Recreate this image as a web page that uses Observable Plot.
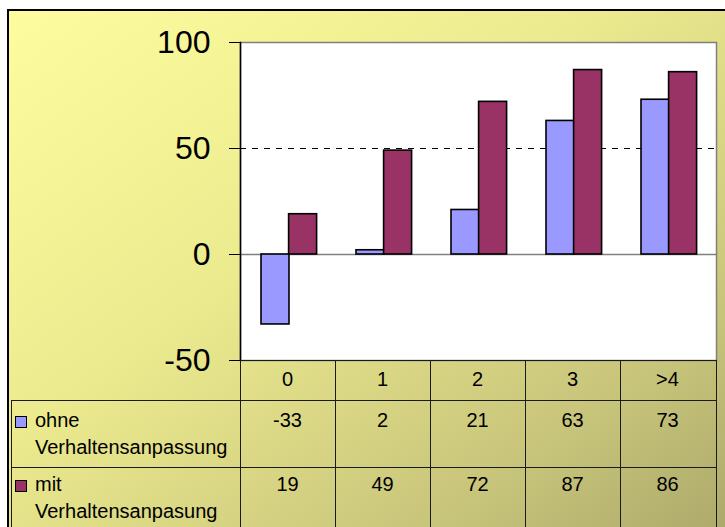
<!DOCTYPE html>
<html><head><meta charset="utf-8">
<script src="https://cdn.jsdelivr.net/npm/d3@7"></script>
<script src="https://cdn.jsdelivr.net/npm/@observablehq/plot@0.6"></script>
<style>
html,body{margin:0;padding:0;}
body{width:725px;height:527px;overflow:hidden;background:#fff;position:relative;font-family:"Liberation Sans",Arial,sans-serif;}
#bg{position:absolute;left:7px;top:9px;width:740px;height:540px;border-left:2px solid #000;border-top:2px solid #000;
  background:linear-gradient(to bottom right,#fdfd9f 0%,#ecea8e 40%,#c9c67c 75%,#a9a568 100%);}
#chart{position:absolute;left:0;top:0;}
#chart svg{background:transparent;overflow:visible;}
.cell{position:absolute;box-sizing:border-box;font-size:20px;line-height:27px;color:#000;}
.hl{position:absolute;height:0;border-top:1.5px solid #1a1a1a;}
.vl{position:absolute;width:0;border-left:1.5px solid #1a1a1a;}
.sw{display:inline-block;width:10px;height:10px;border:1.2px solid #000;position:absolute;left:4px;}
</style>
</head><body>
<div id="bg"></div>
<div id="chart"></div>
<div id="table"></div>
<script>
const categories = ["0", "1", "2", "3", ">4"];
const seriesLabels = [["ohne", "Verhaltensanpassung"], ["mit", "Verhaltensanpasung"]];
const ohne = [-33, 2, 21, 63, 73];
const mit = [19, 49, 72, 87, 86];
const yTicks = [-50, 0, 50, 100];
const refValue = 50;
const colors = ["#9999ff", "#993366"];

const dOhne = categories.map((c, i) => ({cat: c, v: ohne[i]}));
const dMit = categories.map((c, i) => ({cat: c, v: mit[i]}));

const W = 725, ML = 240, MR = 9, MT = 42, PB = 360;
const plot = Plot.plot({
  width: W, height: 380,
  marginLeft: ML, marginRight: MR, marginTop: MT, marginBottom: 380 - PB,
  x: {domain: categories, paddingInner: 0.71, paddingOuter: 0.355, axis: null, label: null},
  y: {domain: [-50, 100], axis: null, label: null},
  marks: [
    Plot.frame({fill: "white", stroke: "#808080", strokeWidth: 1.5}),
    Plot.ruleY([0], {stroke: "#808080", strokeWidth: 1.5}),
    Plot.ruleY([refValue], {stroke: "#000", strokeDasharray: "6,6", strokeWidth: 1}),
    Plot.barY(dOhne, {x: "cat", y: "v", dx: -13, fill: colors[0], stroke: "#000", strokeWidth: 1.6}),
    Plot.barY(dMit, {x: "cat", y: "v", dx: 14.6, fill: colors[1], stroke: "#000", strokeWidth: 1.6}),
    Plot.frame({anchor: "left", stroke: "#000", strokeWidth: 1.5}),
    Plot.axisY({ticks: yTicks, tickSize: 11, tickPadding: 19, fontSize: 32, stroke: "#000", label: null,
      fontFamily: "Liberation Sans, Arial, sans-serif", fill: "#000",
      tickFormat: d => (d < 0 ? "-" + Math.abs(d) : String(d))})
  ]
});
document.getElementById("chart").appendChild(plot);

// data table below the chart, aligned with the x band scale
const xs = plot.scale("x");
const step = xs.step;
const colEdges = categories.map((c, i) => ML + i * step);
colEdges.push(W - MR);
const tbl = document.getElementById("table");
function add(cls, style, html) {
  const d = document.createElement("div");
  d.className = cls;
  Object.assign(d.style, style);
  if (html != null) d.innerHTML = html;
  tbl.appendChild(d);
  return d;
}
const rowTop = [PB, 400, 467];
const rowPad = [6, 7, 4];
const L = 11, R = W - MR;
add("hl", {left: ML + "px", top: PB + "px", width: (R - ML) + "px"});
add("hl", {left: L + "px", top: "400px", width: (R - L) + "px"});
add("hl", {left: L + "px", top: "467px", width: (R - L) + "px"});
add("vl", {left: L + "px", top: "400px", height: "140px"});
colEdges.forEach(x => add("vl", {left: x + "px", top: PB + "px", height: "180px"}));
categories.forEach((c, i) => add("cell", {left: colEdges[i] + "px", width: step + "px", top: (PB + rowPad[0]) + "px", textAlign: "center"}, c));
[ohne, mit].forEach((vals, r) => {
  const top = rowTop[r + 1] + rowPad[r + 1];
  const lc = add("cell", {left: L + "px", top: top + "px", width: (ML - L) + "px", paddingLeft: "24px"},
    seriesLabels[r].join("<br>"));
  const sw = document.createElement("span");
  sw.className = "sw";
  sw.style.background = colors[r];
  sw.style.top = "9px";
  lc.appendChild(sw);
  vals.forEach((v, i) => add("cell", {left: colEdges[i] + "px", width: step + "px", top: top + "px", textAlign: "center"}, String(v)));
});
</script>
</body></html>
